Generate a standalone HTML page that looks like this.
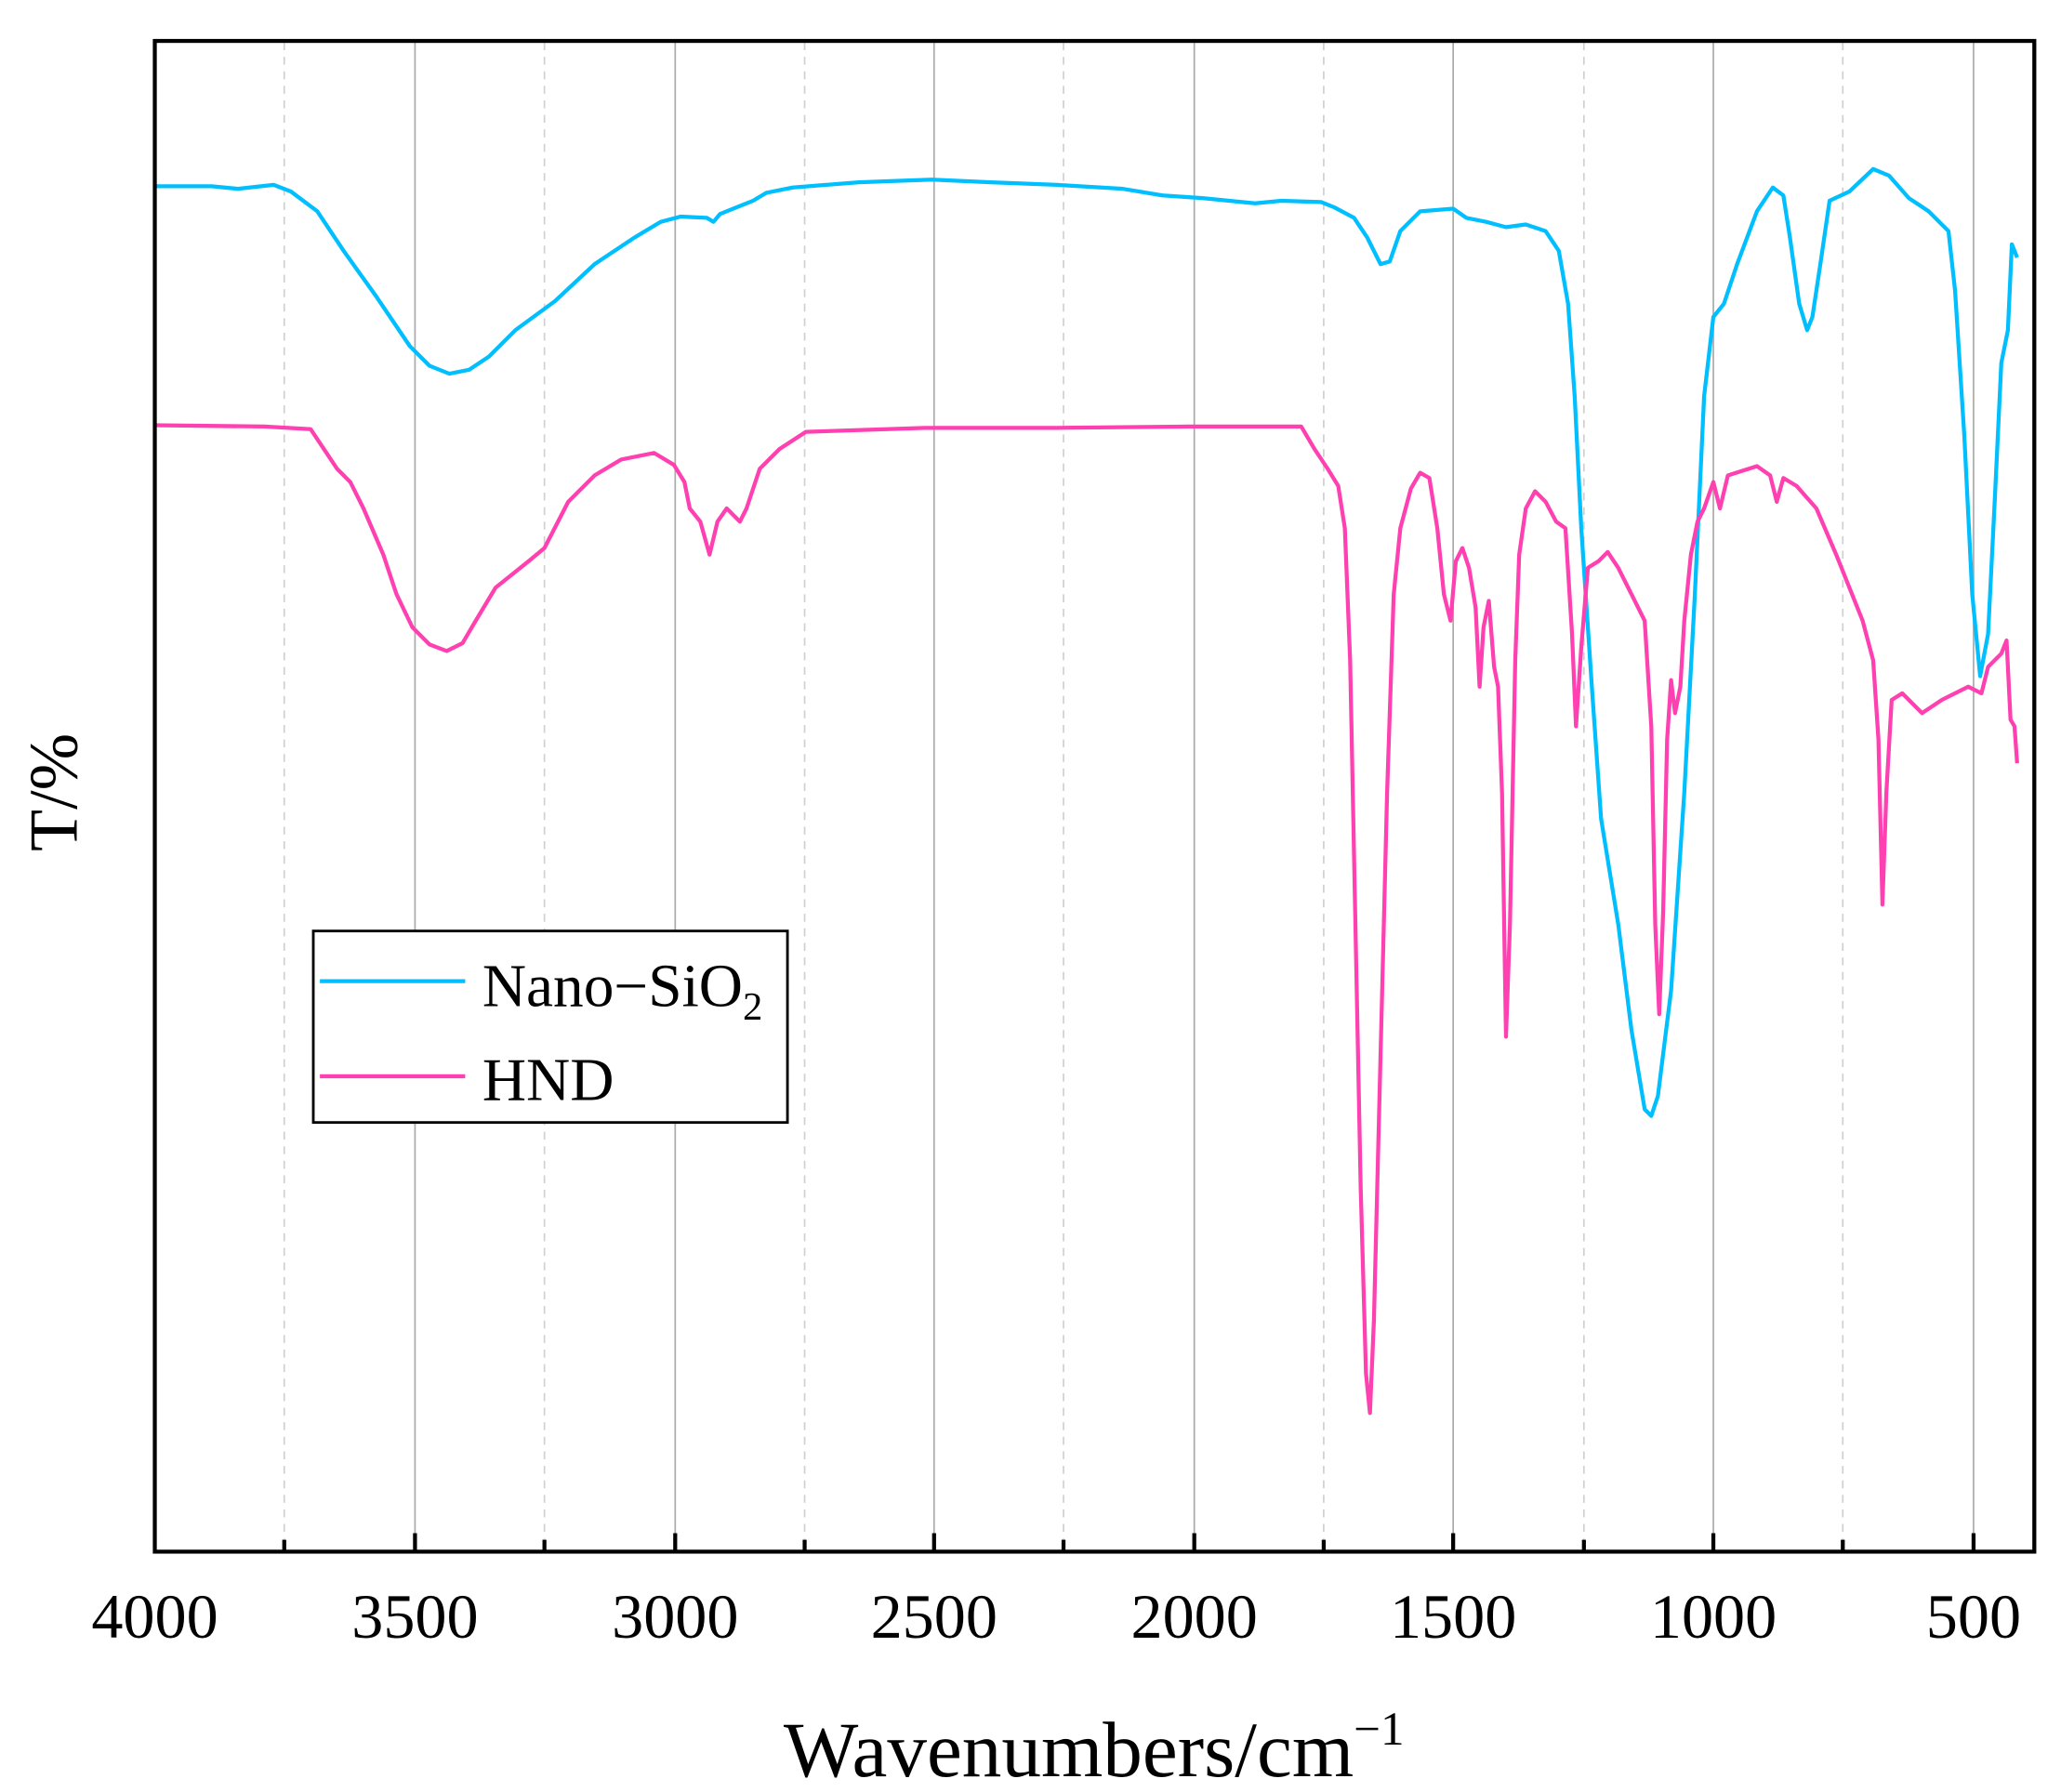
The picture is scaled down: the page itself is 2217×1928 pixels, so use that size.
<!DOCTYPE html>
<html><head><style>body{margin:0;background:#fff}svg{display:block}</style></head><body>
<svg width="2217" height="1928" viewBox="0 0 1560 1357" xmlns="http://www.w3.org/2000/svg" font-family="Liberation Serif, serif">
<rect width="1560" height="1357" fill="#fff"/>
<g stroke="#aaa" stroke-width="1.2">
<line x1="314" y1="32" x2="314" y2="1175"/><line x1="511" y1="32" x2="511" y2="1175"/><line x1="707" y1="32" x2="707" y2="1175"/><line x1="904" y1="32" x2="904" y2="1175"/><line x1="1100" y1="32" x2="1100" y2="1175"/><line x1="1297" y1="32" x2="1297" y2="1175"/><line x1="1494" y1="32" x2="1494" y2="1175"/>
</g>
<g stroke="#d0d0d0" stroke-width="1.2" stroke-dasharray="6,5">
<line x1="215" y1="32" x2="215" y2="1175"/><line x1="412" y1="32" x2="412" y2="1175"/><line x1="609" y1="32" x2="609" y2="1175"/><line x1="805" y1="32" x2="805" y2="1175"/><line x1="1002" y1="32" x2="1002" y2="1175"/><line x1="1199" y1="32" x2="1199" y2="1175"/><line x1="1395" y1="32" x2="1395" y2="1175"/>
</g>
<polyline fill="none" stroke="#00BFFF" stroke-width="3" stroke-linejoin="round" points="117,141 160,141 180,143 207,140 220,145 240,160 260,190 285,225 310,262 325,277 340,283 355,280 370,270 390,250 420,228 450,200 480,180 500,168 515,164 535,165 540,168 545,162 560,156 570,152 580,146 600,142 650,138 705,136 750,138 800,140 850,143 880,148 910,150 950,154 970,152 1000,153 1010,157 1025,165 1035,180 1045,200 1052,198 1060,175 1075,160 1100,158 1110,165 1125,168 1140,172 1155,170 1170,175 1180,190 1187,230 1192,300 1197,400 1205,520 1212,620 1225,700 1235,780 1245,840 1250,845 1255,830 1265,750 1275,600 1283,450 1290,300 1297,240 1305,230 1315,200 1330,160 1342,142 1350,148 1355,180 1362,230 1368,250 1372,240 1378,200 1385,152 1400,145 1418,128 1430,133 1445,150 1460,160 1475,175 1480,220 1487,330 1493,450 1499,512 1505,480 1510,380 1515,275 1520,250 1523,185 1527,195"/>
<polyline fill="none" stroke="#FF40B0" stroke-width="3" stroke-linejoin="round" points="117,322 200,323 235,325 245,340 255,355 265,365 275,385 290,420 300,450 312,475 325,488 338,493 350,487 360,470 375,445 400,425 412,415 430,380 450,360 470,348 495,343 510,352 518,365 522,385 530,395 537,420 543,395 550,385 560,395 565,385 575,355 590,340 610,327 700,324 800,324 900,323 985,323 995,340 1005,355 1013,368 1018,400 1022,500 1026,700 1030,900 1034,1040 1037,1070 1040,1000 1045,800 1050,600 1055,450 1060,400 1068,370 1075,358 1082,362 1088,400 1093,450 1098,470 1102,425 1107,415 1112,430 1117,460 1120,520 1123,475 1127,455 1131,505 1134,520 1137,600 1140,785 1143,700 1147,500 1150,420 1155,385 1162,372 1170,380 1178,395 1185,400 1190,480 1193,550 1197,490 1202,430 1210,425 1217,418 1225,430 1235,450 1245,470 1250,550 1253,700 1256,768 1259,690 1262,560 1265,515 1268,540 1272,520 1275,470 1280,420 1285,395 1290,385 1297,365 1302,385 1308,360 1330,353 1340,360 1345,380 1350,362 1360,368 1375,385 1390,420 1400,445 1410,470 1418,500 1422,560 1425,685 1428,600 1432,530 1440,525 1455,540 1470,530 1490,520 1500,525 1505,505 1515,495 1519,485 1522,545 1525,550 1527,578"/>
<rect x="117" y="31" width="1423" height="1144" fill="none" stroke="#000" stroke-width="3"/>
<g stroke="#000" stroke-width="3">
<line x1="314" y1="1175" x2="314" y2="1161"/><line x1="511" y1="1175" x2="511" y2="1161"/><line x1="707" y1="1175" x2="707" y2="1161"/><line x1="904" y1="1175" x2="904" y2="1161"/><line x1="1100" y1="1175" x2="1100" y2="1161"/><line x1="1297" y1="1175" x2="1297" y2="1161"/><line x1="1494" y1="1175" x2="1494" y2="1161"/>
<line x1="215" y1="1175" x2="215" y2="1166"/><line x1="412" y1="1175" x2="412" y2="1166"/><line x1="609" y1="1175" x2="609" y2="1166"/><line x1="805" y1="1175" x2="805" y2="1166"/><line x1="1002" y1="1175" x2="1002" y2="1166"/><line x1="1199" y1="1175" x2="1199" y2="1166"/><line x1="1395" y1="1175" x2="1395" y2="1166"/>
</g>
<g font-size="48" text-anchor="middle" fill="#000">
<text x="117" y="1240">4000</text><text x="314" y="1240">3500</text><text x="511" y="1240">3000</text><text x="707" y="1240">2500</text><text x="904" y="1240">2000</text><text x="1100" y="1240">1500</text><text x="1297" y="1240">1000</text><text x="1494" y="1240">500</text>
</g>
<text x="828" y="1345" font-size="60" text-anchor="middle">Wavenumbers/cm<tspan font-size="36" dy="-24">−1</tspan></text>
<text transform="translate(58,600) rotate(-90)" font-size="52" text-anchor="middle">T/%</text>
<rect x="237" y="705" width="359" height="145" fill="#fff" stroke="#000" stroke-width="2"/>
<line x1="242" y1="743" x2="352" y2="743" stroke="#00BFFF" stroke-width="3"/>
<line x1="242" y1="815" x2="352" y2="815" stroke="#FF40B0" stroke-width="3"/>
<text x="365" y="762" font-size="46">Nano−SiO<tspan font-size="30" dy="10">2</tspan></text>
<text x="365" y="833" font-size="46">HND</text>
</svg>
</body></html>
